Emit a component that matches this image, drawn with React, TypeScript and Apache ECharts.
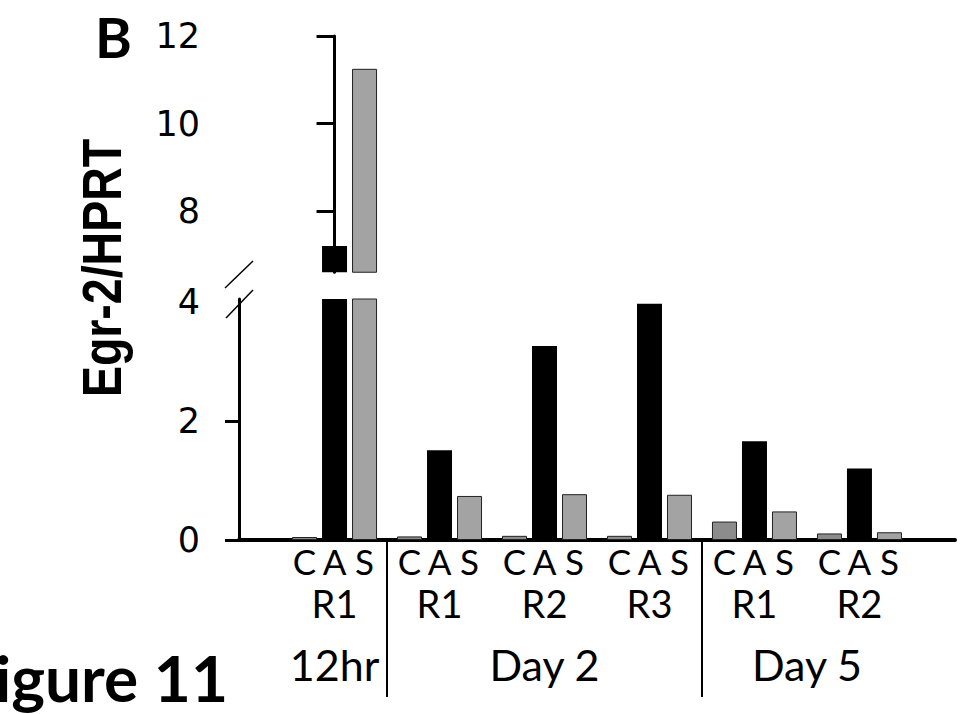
import React, { useEffect, useRef } from 'react';
import * as echarts from 'echarts';

// ---- data ----
const replicates = ['R1', 'R1', 'R2', 'R3', 'R1', 'R2'];
const timepointOf = [0, 1, 1, 1, 2, 2];
const timepoints = ['12hr', 'Day 2', 'Day 5'];
const conditions = ['C', 'A', 'S'];
const cValues = [0.05, 0.06, 0.07, 0.07, 0.31, 0.11];
const aValues = [7.2, 1.51, 3.26, 3.97, 1.66, 1.2];
const sValues = [11.25, 0.74, 0.77, 0.76, 0.48, 0.13];
const upperTicks = [8, 10, 12];
const lowerTickLabels = [0, 2, 4];
const lowerTickMarks = [0, 2];
const yTitle = 'Egr-2/HPRT';
const panelLetter = 'B';
const figureLabel = 'Figure 11';

const valuesByCondition = [cValues, aValues, sValues];

const conditionStyle: Record<string, any> = {
  C: { color: '#8c8c8c', borderColor: '#222', borderWidth: 1 },
  A: { color: '#000000', borderColor: '#000', borderWidth: 0 },
  S: { color: '#a3a3a3', borderColor: '#222', borderWidth: 1 },
};

export default function App() {
  const ref = useRef<HTMLDivElement>(null);
  useEffect(() => {
    if (!ref.current) return;
    const chart = echarts.init(ref.current, undefined, { renderer: 'svg' });

    const idx = replicates.map((_, i) => i);
    const timeCenters = timepoints.map((_, t) => {
      const members = idx.filter((i) => timepointOf[i] === t);
      return members.reduce((a, b) => a + b, 0) / members.length;
    });
    const separators: number[] = [];
    for (let i = 1; i < replicates.length; i++) {
      if (timepointOf[i] !== timepointOf[i - 1]) separators.push(i - 0.5);
    }

    const xMin = -0.91;
    const xMax = 5.91;
    const gridLeft = 239;
    const gridRight = 6;

    const barCommon = { type: 'bar', barWidth: 25, barGap: '20%', clip: true };

    const lowerSeries = conditions.map((c, j) => ({
      ...barCommon,
      name: c,
      xAxisIndex: 1,
      yAxisIndex: 1,
      data: valuesByCondition[j].map((v, i) => [i, v]),
      itemStyle: conditionStyle[c],
      label: {
        show: true,
        position: 'bottom',
        distance: 9,
        formatter: c,
        fontSize: 35,
        lineHeight: 24,
        fontFamily: 'Lato',
        color: '#000',
      },
    }));
    const upperSeries = conditions.map((c, j) => ({
      ...barCommon,
      name: c + '-upper',
      xAxisIndex: 0,
      yAxisIndex: 0,
      data: valuesByCondition[j].map((v, i) => [i, v]),
      itemStyle: conditionStyle[c],
      label: { show: false },
    }));

    const option: any = {
      animation: false,
      backgroundColor: '#fff',
      grid: [
        { left: gridLeft, right: gridRight, top: 36, height: 236.25, containLabel: false, outerBoundsMode: 'none' },
        { left: gridLeft, right: gridRight, top: 299, height: 241, containLabel: false, outerBoundsMode: 'none' },
      ],
      xAxis: [
        { type: 'value', gridIndex: 0, min: xMin, max: xMax, show: false, splitLine: { show: false } },
        {
          type: 'value',
          gridIndex: 1,
          min: xMin,
          max: xMax,
          position: 'bottom',
          axisLine: { show: true, onZero: false, lineStyle: { color: '#000', width: 4 } },
          axisTick: { show: false },
          splitLine: { show: false },
          axisLabel: {
            customValues: idx,
            formatter: (v: number) => replicates[Math.round(v)] ?? '',
            fontSize: 38,
            lineHeight: 28,
            fontFamily: 'Lato',
            color: '#000',
            margin: 49,
          },
        },
        {
          type: 'value',
          gridIndex: 1,
          min: xMin,
          max: xMax,
          position: 'bottom',
          offset: 10,
          axisLine: { show: false },
          axisTick: {
            show: true,
            customValues: separators,
            length: 157,
            lineStyle: { color: '#000', width: 2 },
          },
          splitLine: { show: false },
          axisLabel: {
            customValues: timeCenters,
            formatter: (v: number) => {
              const k = timeCenters.findIndex((c) => Math.abs(c - v) < 1e-6);
              return k >= 0 ? timepoints[k] : '';
            },
            fontSize: 43,
            lineHeight: 34,
            fontFamily: 'Lato',
            color: '#000',
            margin: 97,
          },
        },
      ],
      yAxis: [
        {
          type: 'value',
          gridIndex: 0,
          min: 6.6,
          max: 12,
          axisLine: { show: true, lineStyle: { color: '#000', width: 3 } },
          axisTick: { show: true, customValues: upperTicks, length: 18, lineStyle: { color: '#000', width: 3 } },
          splitLine: { show: false },
          axisLabel: {
            customValues: upperTicks,
            fontSize: 35,
            fontFamily: 'DejaVu Sans',
            color: '#000',
            margin: 39,
          },
        },
        {
          type: 'value',
          gridIndex: 1,
          min: 0,
          max: 4.05,
          axisLine: { show: true, onZero: false, lineStyle: { color: '#000', width: 3 } },
          axisTick: { show: true, customValues: lowerTickMarks, length: 14, lineStyle: { color: '#000', width: 3 } },
          splitLine: { show: false },
          axisLabel: {
            customValues: lowerTickLabels,
            fontSize: 35,
            fontFamily: 'DejaVu Sans',
            color: '#000',
            margin: 39,
          },
        },
      ],
      series: [...lowerSeries, ...upperSeries],
      graphic: [
        {
          type: 'text',
          x: 95,
          y: 8,
          style: { text: panelLetter, fontSize: 56, fontWeight: 'bold', fontFamily: 'Lato', fill: '#000' },
        },
        {
          type: 'text',
          x: 228,
          y: 709,
          style: {
            text: figureLabel,
            fontSize: 64,
            fontWeight: 'bold',
            fontFamily: 'Lato',
            fill: '#000',
            align: 'right',
            verticalAlign: 'bottom',
          },
        },
        {
          type: 'text',
          x: 101,
          y: 268,
          rotation: Math.PI / 2,
          scaleX: 0.83,
          style: {
            text: yTitle,
            fontSize: 56,
            fontWeight: 'bold',
            fontFamily: '"Liberation Sans", Arial, sans-serif',
            fill: '#000',
            align: 'center',
            verticalAlign: 'middle',
          },
        },
        { type: 'line', shape: { x1: 225, y1: 288, x2: 253, y2: 261 }, style: { stroke: '#000', lineWidth: 1.5 } },
        { type: 'line', shape: { x1: 226, y1: 318, x2: 253, y2: 290 }, style: { stroke: '#000', lineWidth: 1.5 } },
      ],
    };

    chart.setOption(option);
    return () => chart.dispose();
  }, []);

  return <div ref={ref} style={{ position: 'fixed', left: 0, top: 0, width: 961, height: 714 }} />;
}
